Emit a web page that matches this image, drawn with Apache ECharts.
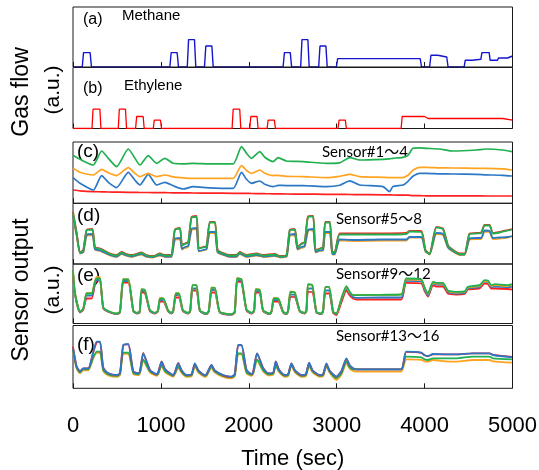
<!DOCTYPE html>
<html><head><meta charset="utf-8">
<script src="https://cdn.jsdelivr.net/npm/echarts@6/dist/echarts.min.js"></script>
<style>html,body{margin:0;padding:0;background:#fff}#c{width:539px;height:470px}</style>
</head><body><div id="c"></div>
<script>
// ---- Gas flow (a.u.), step breakpoints [time sec] ----
const methaneT = [0,105,120,195,210,1102,1117,1185,1200,1300,1315,1382,1397,1496,1511,1580,1595,2390,2405,2472,2487,2590,2605,2672,2687,2795,2810,2877,2892,2996,3011,3950,3965,4057,4072,4150,4160,4252,4267,4450,4462,4545,4555,4640,4652,4735,4745,4830,4840,4945,4955,5000];
const methaneV = [0,0,14.4,14.4,0,0,14.4,14.4,0,0,27.4,27.4,0,0,21,21,0,0,14.4,14.4,0,0,27.4,27.4,0,0,21,21,0,0,8.4,8.4,0,0,11.7,11.7,10,10,0,0,6.7,6.7,7.7,7.7,14.4,14.4,6.7,6.7,9,9,11,11];
const ethyleneT = [0,216,228,306,318,515,527,597,609,712,724,798,810,913,925,995,1007,1810,1822,1897,1909,2011,2023,2094,2106,2208,2220,2291,2303,3015,3027,3098,3110,3733,3745,4000,4040,4890,4905,5000];
const ethyleneV = [0,0,19.3,19.3,0,0,19.3,19.3,0,0,12,12,0,0,8.3,8.3,0,0,19.3,19.3,0,0,12,12,0,0,8.3,8.3,0,0,8.3,8.3,0,0,12,12,10,10,8.3,8.3];

// ---- Sensor #1-4 (panel c) ----
const tC = [0,80,231,326,402,496,629,705,761,856,951,1045,1140,1254,1367,1557,1822,1917,1974,2030,2125,2182,2277,2333,2428,2617,2883,3034,3148,3261,3527,3602,3640,3754,3811,3867,3943,4019,4171,4322,4587,4701,4890,4993];
const cGreen  = [48,44,38.3,52.3,45,36.7,54.3,45,38.3,47.7,40,45,40,39.5,40,39.5,39.5,56.7,50,45,51.7,46,41.7,45.7,42.3,41.7,40,40.5,45.7,43.3,44,44.5,45,46,48,55,55.5,55,54.3,52.3,53.3,54.3,53.3,51.7];
const cOrange = [35,31,28.3,34,30.5,27.7,35.7,30,26.7,30,26.7,28.3,26.5,25.5,25,25,25,37.7,33,30,33.3,30,27.7,28,27,26.7,25.7,27,29,26.7,26,25.7,25.7,25.7,28,33,36,36,35.5,35.3,35,35,34.5,33.3];
const cBlue   = [25.7,20,13.3,27.7,21,15.7,31,23,18.3,29,18.3,21,17.5,14.3,16.7,15.5,15,31,24,20,22.3,19,16.7,18,17.7,17.7,16.7,18,22.5,18.3,16.7,11.7,16.7,18.3,22,27,30,30,29.5,29.3,29,28.5,28,27.3];
const cRed    = [13.3,12.5,11.7,11.5,11.3,11.2,11,11,10.8,10.8,10.7,10.6,10.5,10.4,10.3,10.2,10,10,10,9.8,9.7,9.6,9.5,9.4,9.3,9.2,9,8.9,8.8,8.7,8.5,8.4,8.3,8.2,8.1,7.7,7.6,7.5,7.5,7.4,7.4,7.3,7.3,7.3];

// ---- Sensor #5-8 (panel d) ----
const tD = [0,42,80,117,155,220,250,307,345,420,496,553,610,667,780,837,913,989,1045,1102,1121,1159,1216,1240,1273,1311,1349,1405,1430,1481,1519,1557,1614,1645,1708,1784,1860,1898,1974,2087,2163,2296,2352,2428,2466,2523,2555,2599,2636,2674,2731,2760,2807,2845,2871,2921,2950,2977,3034,3200,3500,3792,3830,3962,4010,4057,4133,4208,4265,4303,4398,4455,4512,4587,4644,4682,4739,4777,4852,4947,4993];
const dRed = [52,31,12,14,34,35,17,15.5,14,10.5,9,12,10,9,11.5,9,8,10.5,9,9,9,34.5,36,19,20.5,22,47,48,16,17,18,42,42,14,11,9,9,12,9,10.5,9,10,8,9,34,35,17,20.5,22,47.5,48,14,15.5,17,42,42,12,12,30.5,30.5,30.5,31,33,33,14,10.5,37,35.5,19,15.5,10.5,10.5,30.5,31,31.5,39,39,31,32,34,35];
const dGreen = [51,30,11.5,13.5,33.5,34.5,16.5,15,13.5,10,8.5,11.5,9.5,8.5,11,8.5,7.5,10,8.5,8.5,8.5,34,35.5,18.5,20,21.5,46.5,47,15.5,16.5,17.5,41.5,41.5,13.5,10.5,8.5,8.5,11.5,8.5,10,8.5,9.5,7.5,8.5,33.5,34.5,16.5,20,21.5,47,47.5,13.5,15,16.5,41.5,41.5,11.5,11.5,29.5,29.5,29.5,30,32.5,32,13.5,10,36.5,35,18.5,15,10,10,30,30.5,31,38.5,38.5,30.5,31.5,33.5,34.5];
const dBlue = [48,29,11,12,29,30,15,13.5,12,9,7.5,10.5,8.5,7.5,10,7.5,7,9,7.5,7.5,7.5,25,26,15,17,18,35,36,13,14,15,32,32,12,9.5,7.5,7.5,10.5,7.5,9,7.5,8.5,7,7.5,29,30,15,17,18,34,35,12,13.5,14,32,32,10,10,24.5,24,24.5,24.5,27,27,13,10,31,30,17,14,9.5,9.5,25.5,26,26,33.5,33,26,26.5,27,28];
const dOrange = [47,28,10.5,11.5,28,29,14.5,13,11.5,8.5,7,10,8,7,9.5,7,6.5,8.5,7,7,7,24,25,14.5,16,17,34,35,12.5,13.5,14.5,31,31,11.5,9,7,7,10,7,8.5,7,8,6.5,7,28,29,14.5,16,17,33,34,11.5,13,13.5,31,31,9.5,9.5,23.5,23,23.5,23.5,26.5,26.5,12.5,9.5,30,29,16.5,13.5,9,9,24.5,25,25,32.5,32,25,25.5,26.5,27.5];

// ---- Sensor #9-12 (panel e) ----
const tE = [0,23,80,117,155,212,250,270,307,345,420,496,534,572,629,686,724,758,780,818,875,932,966,989,1027,1083,1121,1140,1170,1205,1250,1311,1333,1360,1405,1443,1519,1545,1576,1614,1670,1803,1840,1868,1917,1974,2031,2060,2080,2125,2163,2239,2260,2284,2334,2390,2428,2447,2474,2523,2580,2636,2655,2674,2723,2770,2826,2845,2871,2913,2960,2996,3053,3110,3148,3186,3224,3500,3735,3792,3962,4000,4038,4095,4133,4208,4265,4360,4455,4493,4625,4682,4720,4758,4800,4947,4993];
const eGreen = [53,30,12,15,30,30,42,45,45,16,11.7,10,12,44,44,13,10.7,12,34,33.3,13.3,10.7,13,25,25,13,10.7,13,30,30,13.3,10.7,13,38.3,38.3,13.3,10,13,35.7,35.7,11.7,9.3,12,45,44,14,10.7,13,34,33.3,13.3,10,13,25,25,11.7,10,13,31.7,31,12.7,10.7,13,39.3,38.3,11.7,10,13,36.7,36.7,11.7,10,25,37.3,31.7,28.3,28.3,28.7,29,45,44,36,30,41.7,40.7,40.7,33,31.7,32,36.7,38.3,43.3,43,38.3,39.3,38.3,39.3];
const eBlue = [51,29.5,11.5,14.5,28,28,40.5,43.5,43.5,15.5,11.2,9.5,11.5,42.5,42.5,12.5,10.2,11.5,32.5,32,12.8,10.2,12.5,23.5,23.5,12.5,10.2,12.5,28.5,28.5,12.8,10.2,12.5,35,35,12.8,9.5,12.5,33.5,33.5,11.2,8.8,11.5,43.5,42.5,13.5,10.2,12.5,32.5,32,12.8,9.5,12.5,23.5,23.5,11.2,9.5,12.5,29,28.5,12.2,10.2,12.5,35,35,11.2,9.5,12.5,33,33,11.2,9.5,23.5,35,30,26.5,25.7,26,26,42.7,42,34,28,40,39,39,31.5,30,30.5,35,36.5,42,41.5,36.5,37,36.5,36.7];
const eRed = [50,29,11,14,25,25,39,43,43,15,11,9.3,11,41,41,12.5,10,11,31,30.5,12.5,10,12,22,22,12,10,12,26,26,12.5,10,12,33,33,12.5,9.3,12,31,31,11,8.8,11,42,41,13,10,12,31,30.5,12.5,9.3,12,22,22,11,9.3,12,26.7,26.5,12,10,12,31.7,31.5,11,9.3,12,30,30,10.5,8.3,21,33,28,25,24,24,24,40.7,40,32.5,27,38,37,37,30,29,29.5,34,35,40,39.5,35,35,34.5,34];
const eOrange = [52,30.5,12,15,30.5,30.5,43,46.7,46,16,11.7,10,12,44.5,44,13,10.7,12,34.5,33.5,13.3,10.7,13,25.5,25,13,10.7,13,30.5,30,13.3,10.7,13,38.5,38,13.3,10,13,36,35.5,11.7,9.3,12,45.5,44,14,10.7,13,34.5,33.5,13.3,10,13,25.5,25,11.7,10,13,32,31,12.7,10.7,13,39,38,11.7,10,13,36.5,36.5,11.7,10,24.5,36.5,31,28.5,28.5,28.5,29,44,43.5,35.5,29.5,41,40,40,32.5,31,31.5,36,37.5,42.5,42,37.5,38.5,37.5,38.5];

// ---- Sensor #13-16 (panel f) ----
const tF = [0,42,80,117,174,231,270,307,345,401,496,534,572,629,686,743,762,799,837,870,894,951,970,1008,1045,1102,1140,1159,1197,1235,1292,1349,1386,1425,1500,1519,1576,1610,1708,1803,1840,1879,1917,1974,2031,2049,2094,2163,2220,2277,2307,2345,2409,2447,2485,2525,2599,2648,2686,2725,2807,2845,2883,2920,2996,3053,3110,3148,3186,3224,3500,3735,3792,3962,4000,4038,4095,4240,4360,4550,4739,4777,4993];
const fBlue = [40,21.7,17,20,20,36.7,46.7,46.7,20,15,13.3,15,43.3,44.3,16.7,15,17,35,26.7,19,16.7,14.3,16,26.7,19,15,13.3,16,25,18,13.3,14,25,18,13.3,14,23.3,18,13.3,11.7,14,43.3,43.3,18.3,14.3,16,35,20,15,15.5,26.7,18,13.3,14,25,18,13.3,14,25.7,18,13.3,14,25,17.5,11.7,17,30,23,20,19,19,19,36.7,35.7,33,32.3,34.3,34,34,35,35,33.3,31];
const fRed = [41.7,21.5,17,20,20,36,46,46.5,20.5,15,13,15,43,44,17,15,17,35.5,27,19.5,16.5,14,16,27,19.5,15,13,16,25.5,18,13,14,24.5,18,13,14,23.5,18,13,11.5,14,43,43,18.5,14,16,35,20.5,15,15.5,27,18.5,13,14,25,18,13,14,25.5,18,13,14,24.5,17.5,11.5,17,29.5,23,20,19,19,19,36.5,35.5,33,32,34,34,34,35,35,33.5,31.5];
const fGreen = [38,20.5,16,19,19,31,36.7,36.7,18,14,12.5,14,35.7,35.7,15.5,14,16,29,23,17.5,15.5,13.5,15,23.3,17.5,14,12.5,15,21.7,16.5,12.5,13,23.3,17,12.5,13,21.7,17,12.5,11,13,35,35,16,13.5,15,29,18,14,14.5,23.3,17,12.5,13,23.3,17,12.5,13,23.3,17,12.5,13,23.3,16.5,10,15,26.7,21,19,19,19,19,31.7,31,29,28.3,30,30,30,31.7,31.7,30,29];
const fOrange = [37,19.5,15,18,18,30,35.5,35.5,17,13,11.5,13,34.5,34.5,14.5,13,15,28,22,16.5,14.5,12.5,14,22.3,16.5,13,11.5,14,20.7,15.5,11.5,12,22.3,16,11.5,12,20.7,16,11.5,10,12,34,34,15,12.5,14,28,17,13,13.5,22.3,16,11.5,12,22.3,16,11.5,12,22.3,16,11.5,12,22.3,15.5,8.3,13.5,25,19.5,17.5,16.7,16.7,16.7,29,28.5,27,26.7,28.3,27,26.7,28.3,28.3,27,25.7];

const xTicks = [0,1000,2000,3000,4000,5000];

const C = {blue:'#2B78C5', orange:'#FFA321', green:'#20B050', red:'#FF2020'};
const zip = (t, v) => t.map((x, i) => [x, v[i]]);
const FONT = '"Liberation Sans", Arial, sans-serif';
const SENS = 'Lato, "Noto Sans CJK JP", sans-serif';

const panels = [
  {top:7, height:60, ymax:60, z:5},
  {top:67.5, height:61, ymax:61, z:0},
  {top:142, height:61.3, ymax:61.3, z:0},
  {top:203.3, height:60.7, ymax:60.7, z:0},
  {top:264, height:59.5, ymax:59.5, z:0},
  {top:325.5, height:62.8, ymax:62.8, z:0}
];
const grids = panels.map(p => ({left:73, width:439.5, top:p.top, height:p.height, show:true,
  borderColor:'#1a1a1a', borderWidth:1, z:p.z, outerBoundsMode:'none'}));
const xAxes = panels.map((p, i) => ({
  type:'value', gridIndex:i, min:xTicks[0], max:xTicks[xTicks.length-1], interval:1000,
  axisLine:{show:false}, splitLine:{show:false},
  axisTick:{show:true, inside:true, length:5, lineStyle:{color:'#1a1a1a', width:1}},
  axisLabel:{show:i===5, margin:27, fontSize:22, color:'#000', fontFamily:FONT,
    formatter: v => String(v), showMinLabel:true, showMaxLabel:true, hideOverlap:false},
  name: i===5 ? 'Time (sec)' : '', nameLocation:'middle', nameGap:60,
  nameTextStyle:{fontSize:22, color:'#000', fontFamily:FONT}
}));
const yAxes = panels.map((p, i) => ({type:'value', gridIndex:i, min:0, max:p.ymax, show:false}));

function line(idx, data, color, w, smooth) {
  const s = {type:'line', xAxisIndex:idx, yAxisIndex:idx, data, showSymbol:false,
    lineStyle:{color, width:w||1.7}, itemStyle:{color}};
  if (smooth) s.smooth = smooth;
  return s;
}
const S = 0.2;
const series = [
  line(2, zip(tC, cRed), C.red, 1.7, S), line(2, zip(tC, cBlue), C.blue, 1.7, S),
  line(2, zip(tC, cOrange), C.orange, 1.7, S), line(2, zip(tC, cGreen), C.green, 1.7, S),
  line(3, zip(tD, dOrange), C.orange, 1.8, S), line(3, zip(tD, dBlue), C.blue, 1.8, S),
  line(3, zip(tD, dRed), C.red, 1.8, S), line(3, zip(tD, dGreen), C.green, 1.8, S),
  line(4, zip(tE, eRed), C.red, 1.8, S), line(4, zip(tE, eBlue), C.blue, 1.8, S),
  line(4, zip(tE, eOrange), C.orange, 1.8, S), line(4, zip(tE, eGreen), C.green, 1.8, S),
  line(5, zip(tF, fOrange), C.orange, 1.8, S), line(5, zip(tF, fGreen), C.green, 1.8, S),
  line(5, zip(tF, fRed), C.red, 1.8, S), line(5, zip(tF, fBlue), C.blue, 1.8, S),
  line(1, zip(ethyleneT, ethyleneV), '#FF0000', 1.3),
  line(0, zip(methaneT, methaneV), '#1515D0', 1.4)
];

function txt(text, x, y, size, opts) {
  opts = opts || {};
  const e = {type:'text', x, y,
    style:{text, x:0, y:0, fill:'#000',
      font: size + 'px ' + (opts.family || FONT),
      textAlign: opts.align || 'left', align: opts.align || 'left',
      textVerticalAlign:'middle', verticalAlign:'middle'}};
  if (opts.rot) e.rotation = opts.rot;
  return e;
}
const graphic = [
  txt('Gas flow', 22, 92, 23, {rot:Math.PI/2, align:'center'}),
  txt('(a.u.)', 53, 90, 21, {rot:Math.PI/2, align:'center'}),
  txt('Sensor output', 22, 290, 23, {rot:Math.PI/2, align:'center'}),
  txt('(a.u.)', 53, 290, 21, {rot:Math.PI/2, align:'center'}),
  txt('(a)', 83, 20, 16), txt('Methane', 122, 16, 15),
  txt('(b)', 83, 89, 16), txt('Ethylene', 124, 86, 15),
  txt('(c)', 77, 152, 19), txt('(d)', 77, 216, 19), txt('(e)', 77, 276, 19), txt('(f)', 77, 345, 19),
  txt('Sensor#1～4', 322, 152, 15, {family:SENS}),
  txt('Sensor#5～8', 336, 219, 15, {family:SENS}),
  txt('Sensor#9～12', 336, 274, 15, {family:SENS}),
  txt('Sensor#13～16', 336, 336, 15, {family:SENS})
];

const chart = echarts.init(document.getElementById('c'));
chart.setOption({animation:false, backgroundColor:'#fff', grid:grids, xAxis:xAxes, yAxis:yAxes, series, graphic});
</script>
</body></html>
